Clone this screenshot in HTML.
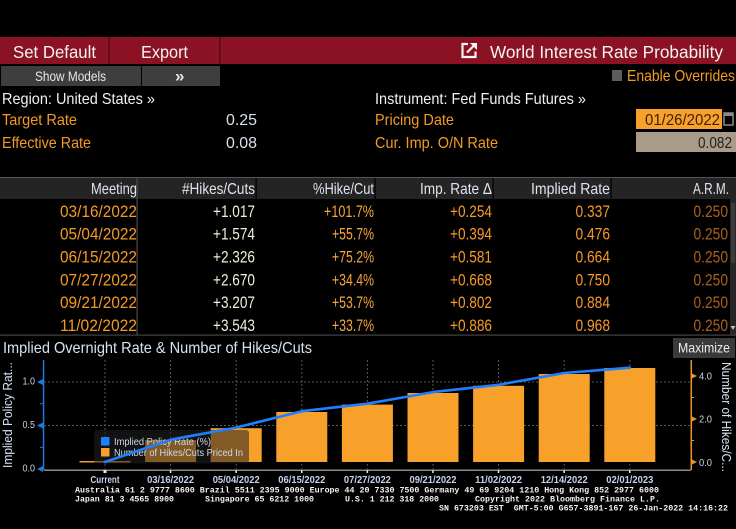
<!DOCTYPE html>
<html><head><meta charset="utf-8"><style>
html,body{margin:0;padding:0;background:#000;width:736px;height:529px;overflow:hidden}
svg{display:block}
text{font-family:"Liberation Sans",sans-serif}
.m{font-family:"Liberation Mono",monospace;font-size:8.4px;fill:#f2f2f2;font-weight:bold}
.or{fill:#f39a22}
.wt{fill:#eef2f8}
.hd{fill:#dfe5f0;font-size:16px}
.v{font-size:16.5px}
</style></head><body>
<svg width="736" height="529" viewBox="0 0 736 529" xmlns="http://www.w3.org/2000/svg">
<rect width="736" height="529" fill="#000"/>
<!-- top red bar -->
<rect x="0" y="37" width="736" height="27" fill="#8a1222"/>
<rect x="108.5" y="37" width="1.5" height="27" fill="#5a0a14"/>
<rect x="219" y="37" width="1.5" height="27" fill="#5a0a14"/>
<text x="13" y="58" font-size="17.5" fill="#f4f4f4" textLength="83" lengthAdjust="spacingAndGlyphs">Set Default</text>
<text x="141" y="58" font-size="17.5" fill="#f4f4f4" textLength="47" lengthAdjust="spacingAndGlyphs">Export</text>
<g stroke="#f4f4f4" stroke-width="2.2" fill="none">
<path d="M468 44 H462.5 V57 H475.5 V51.5"/>
<path d="M467 52.5 L475 44.5"/>
</g>
<path d="M470 43 H477 V50 Z" fill="#f4f4f4"/>
<text x="490" y="58" font-size="17.5" fill="#f4f4f4" textLength="233" lengthAdjust="spacingAndGlyphs">World Interest Rate Probability</text>
<!-- row 2 -->
<rect x="1" y="66" width="140" height="20" fill="#3e3e3e"/>
<rect x="142" y="66" width="78" height="20" fill="#3e3e3e"/>
<text x="35" y="81" font-size="14" fill="#e6e6e6" textLength="71" lengthAdjust="spacingAndGlyphs">Show Models</text>
<text x="175" y="81.5" font-size="17" font-weight="bold" fill="#e6e6e6">»</text>
<rect x="612" y="70" width="10" height="11" fill="#5c5c5c"/>
<text x="627" y="81" font-size="16" class="or" textLength="108" lengthAdjust="spacingAndGlyphs">Enable Overrides</text>
<!-- info rows -->
<text x="2" y="104" font-size="16" class="wt" textLength="153" lengthAdjust="spacingAndGlyphs">Region: United States »</text>
<text x="375" y="104" font-size="16" class="wt" textLength="211" lengthAdjust="spacingAndGlyphs">Instrument: Fed Funds Futures »</text>
<text x="2" y="125" font-size="16" class="or" textLength="75" lengthAdjust="spacingAndGlyphs">Target Rate</text>
<text x="226" y="125" font-size="16" fill="#d8e0ea" textLength="31" lengthAdjust="spacingAndGlyphs">0.25</text>
<text x="375" y="125" font-size="16" class="or" textLength="79" lengthAdjust="spacingAndGlyphs">Pricing Date</text>
<rect x="636" y="109" width="86" height="20" fill="#f7a12c"/>
<text x="645" y="125" font-size="16" fill="#3a2206" textLength="75" lengthAdjust="spacingAndGlyphs">01/26/2022</text>
<rect x="724" y="113" width="9" height="12" fill="none" stroke="#8a8a8a" stroke-width="1.5"/>
<rect x="724" y="113" width="9" height="3" fill="#8a8a8a"/>
<text x="2" y="148" font-size="16" class="or" textLength="89" lengthAdjust="spacingAndGlyphs">Effective Rate</text>
<text x="226" y="148" font-size="16" fill="#d8e0ea" textLength="31" lengthAdjust="spacingAndGlyphs">0.08</text>
<text x="375" y="148" font-size="16" class="or" textLength="123" lengthAdjust="spacingAndGlyphs">Cur. Imp. O/N Rate</text>
<rect x="636" y="132" width="100" height="20" fill="#a89b87"/>
<text x="698" y="148" font-size="16" fill="#1e1e1e" textLength="34" lengthAdjust="spacingAndGlyphs">0.082</text>
<!-- table -->
<rect x="0" y="177" width="736" height="1" fill="#555"/>
<rect x="0" y="178" width="736" height="21" fill="#242424"/>
<rect x="136.5" y="178" width="1.2" height="157" fill="#4a4a4a"/>
<rect x="255.5" y="178" width="1.2" height="21" fill="#000"/>
<rect x="374.5" y="178" width="1.2" height="21" fill="#000"/>
<rect x="492.5" y="178" width="1.2" height="21" fill="#000"/>
<rect x="610.5" y="178" width="1.2" height="21" fill="#000"/>
<text x="91" y="194" class="hd" textLength="46" lengthAdjust="spacingAndGlyphs">Meeting</text>
<text x="182" y="194" class="hd" textLength="73" lengthAdjust="spacingAndGlyphs">#Hikes/Cuts</text>
<text x="313" y="194" class="hd" textLength="61" lengthAdjust="spacingAndGlyphs">%Hike/Cut</text>
<text x="420" y="194" class="hd" textLength="72" lengthAdjust="spacingAndGlyphs">Imp. Rate Δ</text>
<text x="531" y="194" class="hd" textLength="79" lengthAdjust="spacingAndGlyphs">Implied Rate</text>
<text x="693" y="194" class="hd" textLength="36" lengthAdjust="spacingAndGlyphs">A.R.M.</text>
<g class="v" text-anchor="end">
<g fill="#f39a25">
<text x="137" y="216.8" textLength="77" lengthAdjust="spacingAndGlyphs">03/16/2022</text>
<text x="137" y="239.65" textLength="77" lengthAdjust="spacingAndGlyphs">05/04/2022</text>
<text x="137" y="262.5" textLength="77" lengthAdjust="spacingAndGlyphs">06/15/2022</text>
<text x="137" y="285.35" textLength="77" lengthAdjust="spacingAndGlyphs">07/27/2022</text>
<text x="137" y="308.2" textLength="77" lengthAdjust="spacingAndGlyphs">09/21/2022</text>
<text x="137" y="331.05" textLength="77" lengthAdjust="spacingAndGlyphs">11/02/2022</text>
</g>
<g fill="#f0efd8">
<text x="255" y="216.8" textLength="42" lengthAdjust="spacingAndGlyphs">+1.017</text>
<text x="255" y="239.65" textLength="42" lengthAdjust="spacingAndGlyphs">+1.574</text>
<text x="255" y="262.5" textLength="42" lengthAdjust="spacingAndGlyphs">+2.326</text>
<text x="255" y="285.35" textLength="42" lengthAdjust="spacingAndGlyphs">+2.670</text>
<text x="255" y="308.2" textLength="42" lengthAdjust="spacingAndGlyphs">+3.207</text>
<text x="255" y="331.05" textLength="42" lengthAdjust="spacingAndGlyphs">+3.543</text>
</g>
<g fill="#f6a63c">
<text x="374" y="216.8" textLength="50" lengthAdjust="spacingAndGlyphs">+101.7%</text>
<text x="374" y="239.65" textLength="42" lengthAdjust="spacingAndGlyphs">+55.7%</text>
<text x="374" y="262.5" textLength="42" lengthAdjust="spacingAndGlyphs">+75.2%</text>
<text x="374" y="285.35" textLength="42" lengthAdjust="spacingAndGlyphs">+34.4%</text>
<text x="374" y="308.2" textLength="42" lengthAdjust="spacingAndGlyphs">+53.7%</text>
<text x="374" y="331.05" textLength="42" lengthAdjust="spacingAndGlyphs">+33.7%</text>
</g>
<g fill="#f79a28">
<text x="492" y="216.8" textLength="42" lengthAdjust="spacingAndGlyphs">+0.254</text>
<text x="492" y="239.65" textLength="42" lengthAdjust="spacingAndGlyphs">+0.394</text>
<text x="492" y="262.5" textLength="42" lengthAdjust="spacingAndGlyphs">+0.581</text>
<text x="492" y="285.35" textLength="42" lengthAdjust="spacingAndGlyphs">+0.668</text>
<text x="492" y="308.2" textLength="42" lengthAdjust="spacingAndGlyphs">+0.802</text>
<text x="492" y="331.05" textLength="42" lengthAdjust="spacingAndGlyphs">+0.886</text>
</g>
<g fill="#f9982a">
<text x="610" y="216.8" textLength="34.5" lengthAdjust="spacingAndGlyphs">0.337</text>
<text x="610" y="239.65" textLength="34.5" lengthAdjust="spacingAndGlyphs">0.476</text>
<text x="610" y="262.5" textLength="34.5" lengthAdjust="spacingAndGlyphs">0.664</text>
<text x="610" y="285.35" textLength="34.5" lengthAdjust="spacingAndGlyphs">0.750</text>
<text x="610" y="308.2" textLength="34.5" lengthAdjust="spacingAndGlyphs">0.884</text>
<text x="610" y="331.05" textLength="34.5" lengthAdjust="spacingAndGlyphs">0.968</text>
</g>
<g fill="#a8601e">
<text x="728" y="216.8" textLength="34.5" lengthAdjust="spacingAndGlyphs">0.250</text>
<text x="728" y="239.65" textLength="34.5" lengthAdjust="spacingAndGlyphs">0.250</text>
<text x="728" y="262.5" textLength="34.5" lengthAdjust="spacingAndGlyphs">0.250</text>
<text x="728" y="285.35" textLength="34.5" lengthAdjust="spacingAndGlyphs">0.250</text>
<text x="728" y="308.2" textLength="34.5" lengthAdjust="spacingAndGlyphs">0.250</text>
<text x="728" y="331.05" textLength="34.5" lengthAdjust="spacingAndGlyphs">0.250</text>
</g>
</g>
<rect x="730" y="199" width="6" height="136" fill="#262626"/>
<rect x="731" y="203" width="4" height="60" fill="#3c3c3c"/>
<path d="M730.5 326 H735.5 L733 330 Z" fill="#bbb"/>
<rect x="0" y="334.5" width="736" height="1.2" fill="#444"/>
<!-- chart -->
<text x="3" y="353" font-size="16" fill="#d6e2f5" textLength="309" lengthAdjust="spacingAndGlyphs">Implied Overnight Rate &amp; Number of Hikes/Cuts</text>
<rect x="673" y="338" width="62" height="20" fill="#3a3a3a"/>
<text x="678" y="352.5" font-size="14" fill="#ececec" textLength="52" lengthAdjust="spacingAndGlyphs">Maximize</text>
<g stroke="#575757" stroke-width="1" stroke-dasharray="2 2">
<line x1="44" y1="382" x2="690" y2="382"/>
<line x1="44" y1="425.5" x2="690" y2="425.5"/>
<line x1="105" y1="360" x2="105" y2="469"/>
<line x1="170.6" y1="360" x2="170.6" y2="469"/>
<line x1="236.2" y1="360" x2="236.2" y2="469"/>
<line x1="301.8" y1="360" x2="301.8" y2="469"/>
<line x1="367.4" y1="360" x2="367.4" y2="469"/>
<line x1="433" y1="360" x2="433" y2="469"/>
<line x1="498.6" y1="360" x2="498.6" y2="469"/>
<line x1="564.2" y1="360" x2="564.2" y2="469"/>
<line x1="629.8" y1="360" x2="629.8" y2="469"/>
</g>
<g fill="#f7a12a">
<rect x="79.5" y="461" width="51" height="1.5"/>
<rect x="145.1" y="440.1" width="51" height="21.9"/>
<rect x="210.7" y="428.2" width="51" height="33.8"/>
<rect x="276.3" y="412" width="51" height="50"/>
<rect x="341.9" y="404.6" width="51" height="57.4"/>
<rect x="407.5" y="393" width="51" height="69"/>
<rect x="473.1" y="385.8" width="51" height="76.2"/>
<rect x="538.7" y="374" width="51" height="88"/>
<rect x="604.3" y="368" width="51" height="94"/>
</g>
<!-- legend -->
<rect x="94" y="430" width="155" height="33.5" rx="3" fill="rgba(32,32,32,0.55)"/>
<rect x="101" y="437" width="8.5" height="8.5" fill="#1f80ff"/>
<rect x="101" y="448" width="8.5" height="8.5" fill="#f7a12a"/>
<text x="114" y="445" font-size="10" fill="#d0d8e8" textLength="97" lengthAdjust="spacingAndGlyphs">Implied Policy Rate (%)</text>
<text x="114" y="456" font-size="10" fill="#d0d8e8" textLength="129" lengthAdjust="spacingAndGlyphs">Number of Hikes/Cuts Priced In</text>
<!-- line -->
<polyline points="105,462 170.6,439.7 236.2,427.6 301.8,411.2 367.4,403.7 433,392.1 498.6,384.8 564.2,373 629.8,367.7" fill="none" stroke="#1f80ff" stroke-width="2.6" stroke-linejoin="round" stroke-linecap="round"/>
<!-- left axis -->
<rect x="42.8" y="360" width="1.5" height="110" fill="#1f7ae0"/>
<g fill="#1f7ae0">
<polygon points="37,382 43,379 43,385"/>
<polygon points="37,425.5 43,422.5 43,428.5"/>
<polygon points="37,469 43,466 43,472"/>
<rect x="40" y="403.2" width="3" height="1"/>
<rect x="40" y="446.8" width="3" height="1"/>
</g>
<g font-size="10" fill="#c8d4e8" text-anchor="end">
<text x="35" y="384.5" textLength="12.5" lengthAdjust="spacingAndGlyphs">1.0</text>
<text x="35" y="428" textLength="12.5" lengthAdjust="spacingAndGlyphs">0.5</text>
<text x="35" y="471.5" textLength="12.5" lengthAdjust="spacingAndGlyphs">0.0</text>
</g>
<text transform="translate(12,468) rotate(-90)" font-size="13" fill="#d6e2f5" textLength="106" lengthAdjust="spacingAndGlyphs">Implied Policy Rat...</text>
<!-- right axis -->
<rect x="690.5" y="360" width="1.5" height="110" fill="#e8962a"/>
<g fill="#e8962a">
<polygon points="691,373 697,376 691,379"/>
<polygon points="691,416 697,419 691,422"/>
<polygon points="691,459 697,462 691,465"/>
<rect x="691" y="397" width="3" height="1"/>
<rect x="691" y="440" width="3" height="1"/>
</g>
<g font-size="10" fill="#c8d4e8">
<text x="699" y="379.5" textLength="13" lengthAdjust="spacingAndGlyphs">4.0</text>
<text x="699" y="422.5" textLength="13" lengthAdjust="spacingAndGlyphs">2.0</text>
<text x="699" y="466" textLength="13" lengthAdjust="spacingAndGlyphs">0.0</text>
</g>
<text transform="translate(722,362) rotate(90)" font-size="13" fill="#d6e2f5" textLength="110" lengthAdjust="spacingAndGlyphs">Number of Hikes/C...</text>
<!-- x axis -->
<rect x="44" y="469.5" width="647" height="1.5" fill="#8a8a8a"/>
<g fill="#e8e8e8">
<rect x="103.5" y="470" width="3" height="3"/>
<rect x="169.8" y="470" width="1.5" height="3"/>
<rect x="235.4" y="470" width="1.5" height="3"/>
<rect x="301" y="470" width="1.5" height="3"/>
<rect x="366.6" y="470" width="1.5" height="3"/>
<rect x="432.2" y="470" width="1.5" height="3"/>
<rect x="497.8" y="470" width="1.5" height="3"/>
<rect x="563.4" y="470" width="1.5" height="3"/>
<rect x="629" y="470" width="1.5" height="3"/>
</g>
<g font-size="10.5" font-weight="bold" fill="#c4d2ee" text-anchor="middle">
<text x="105" y="483" textLength="29" lengthAdjust="spacingAndGlyphs">Current</text>
<text x="170.6" y="483" textLength="47" lengthAdjust="spacingAndGlyphs">03/16/2022</text>
<text x="236.2" y="483" textLength="47" lengthAdjust="spacingAndGlyphs">05/04/2022</text>
<text x="301.8" y="483" textLength="47" lengthAdjust="spacingAndGlyphs">06/15/2022</text>
<text x="367.4" y="483" textLength="47" lengthAdjust="spacingAndGlyphs">07/27/2022</text>
<text x="433" y="483" textLength="47" lengthAdjust="spacingAndGlyphs">09/21/2022</text>
<text x="498.6" y="483" textLength="47" lengthAdjust="spacingAndGlyphs">11/02/2022</text>
<text x="564.2" y="483" textLength="47" lengthAdjust="spacingAndGlyphs">12/14/2022</text>
<text x="629.8" y="483" textLength="47" lengthAdjust="spacingAndGlyphs">02/01/2023</text>
</g>
<!-- footer -->
<text class="m" x="75" y="492.5" textLength="584" lengthAdjust="spacingAndGlyphs">Australia 61 2 9777 8600 Brazil 5511 2395 9000 Europe 44 20 7330 7500 Germany 49 69 9204 1210 Hong Kong 852 2977 6000</text>
<text class="m" x="75" y="501.5" textLength="99" lengthAdjust="spacingAndGlyphs">Japan 81 3 4565 8900</text>
<text class="m" x="205" y="501.5" textLength="109" lengthAdjust="spacingAndGlyphs">Singapore 65 6212 1000</text>
<text class="m" x="345" y="501.5" textLength="94" lengthAdjust="spacingAndGlyphs">U.S. 1 212 318 2000</text>
<text class="m" x="475" y="501.5" textLength="185" lengthAdjust="spacingAndGlyphs">Copyright 2022 Bloomberg Finance L.P.</text>
<text class="m" x="439" y="510.5" textLength="289" lengthAdjust="spacingAndGlyphs" xml:space="preserve">SN 673203 EST  GMT-5:00 G657-3891-167 26-Jan-2022 14:16:22</text>
</svg>
</body></html>
